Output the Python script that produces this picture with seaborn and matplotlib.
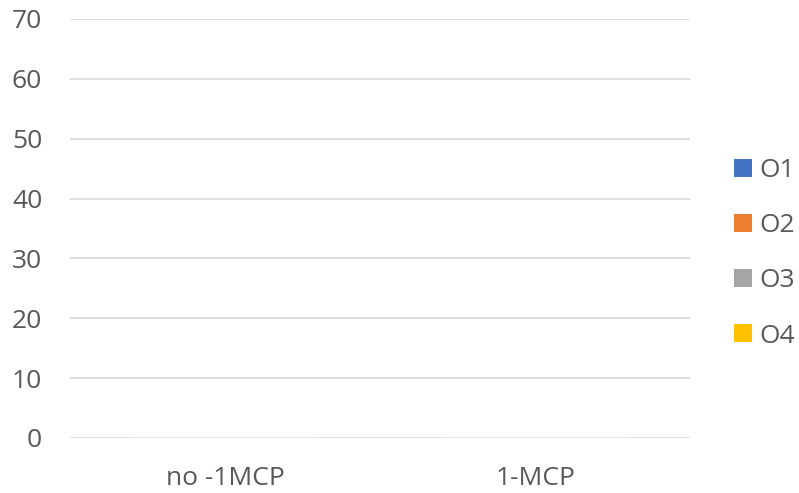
import matplotlib
matplotlib.use("Agg")
import matplotlib.pyplot as plt
import seaborn as sns
import pandas as pd
from matplotlib.patches import Patch

categories = ["no -1MCP", "1-MCP"]
series = ["O1", "O2", "O3", "O4"]
o1 = [0, 0]
o2 = [0, 0]
o3 = [0, 0]
o4 = [0, 0]
colors = ["#4472C4", "#ED7D31", "#A5A5A5", "#FFC000"]

rows = []
for name, vals in zip(series, [o1, o2, o3, o4]):
    for cat, v in zip(categories, vals):
        rows.append({"category": cat, "series": name, "value": v})
df = pd.DataFrame(rows)

sns.set_style("white")
plt.rcParams["font.family"] = ["Open Sans", "DejaVu Sans"]
text_color = "#595959"
fs = 19

fig = plt.figure(figsize=(7.99, 4.93), dpi=100)
ax = fig.add_axes([0.0876, 0.1116, 0.776, 0.850])

sns.barplot(data=df, x="category", y="value", hue="series", palette=colors,
            ax=ax, legend=False, width=0.6)

ax.set_ylim(0, 70)
ax.set_yticks(range(0, 71, 10))
ax.set_xlabel("")
ax.set_ylabel("")
for s in ax.spines.values():
    s.set_visible(False)
ax.grid(axis="y", color="#D9D9D9", linewidth=1.2)
ax.set_axisbelow(True)
ax.tick_params(axis="y", length=0, pad=20, labelsize=fs, labelcolor=text_color)
ax.tick_params(axis="x", length=0, pad=20, labelsize=fs, labelcolor=text_color)

handles = [Patch(facecolor=c, edgecolor="none") for c in colors]
fig.legend(handles, series, loc="center left", bbox_to_anchor=(0.9054, 0.486),
           frameon=False, fontsize=fs, labelcolor=text_color, borderaxespad=0,
           handlelength=0.68, handleheight=0.68, handletextpad=0.3,
           labelspacing=1.14)

fig.savefig("out.png", dpi=100)
